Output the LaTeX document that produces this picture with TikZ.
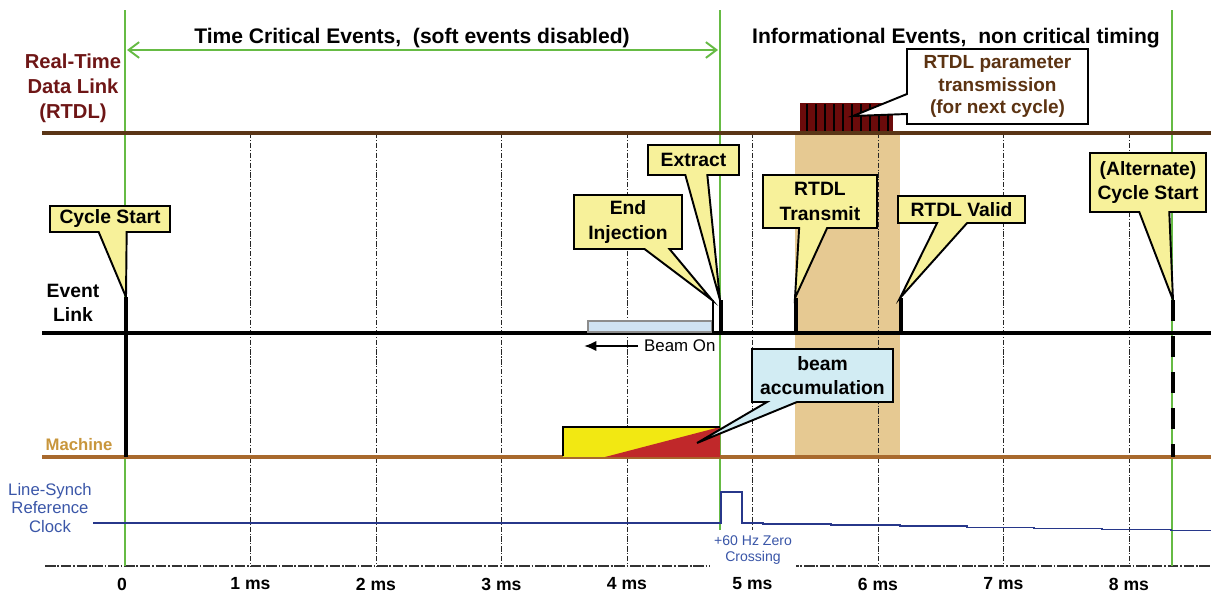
\documentclass[tikz,border=0pt]{standalone}
\usepackage{fontspec}
\setmainfont{Liberation Sans}
\usepackage{tikz}
\usetikzlibrary{positioning,arrows.meta,shapes.callouts}
\usepackage{xcolor}
\definecolor{rtdlline}{HTML}{5A3516}
\definecolor{rtdltext}{HTML}{6E1616}
\definecolor{paramtext}{HTML}{5C3312}
\definecolor{rtdlred}{HTML}{6B0B0B}
\definecolor{machline}{HTML}{A8692D}
\definecolor{machtext}{HTML}{C8963C}
\definecolor{clockblue}{HTML}{27378A}
\definecolor{clocktext}{HTML}{3A56A8}
\definecolor{cyclegreen}{HTML}{66BB44}
\definecolor{noteyellow}{HTML}{F7F19A}
\definecolor{noteblue}{HTML}{D2ECF3}
\definecolor{beamblue}{HTML}{CFE2F2}
\definecolor{rtdlband}{HTML}{E6C992}
\definecolor{accyellow}{HTML}{F2E812}
\definecolor{accred}{HTML}{C0282A}

\begin{document}
\begin{tikzpicture}[x=0.02cm,y=-0.02cm,
    evnote/.style={rectangle callout,draw=black,line width=1.1pt,fill=noteyellow,
      font=\fontsize{11}{14}\selectfont\bfseries,align=center,inner sep=0pt,
      callout pointer width=0.56cm},
    evtick/.style={black,line width=2.3pt},
    gridline/.style={black!85,line width=0.55pt,dash pattern=on 3pt off 1pt on 0.6pt off 1pt},
    greenline/.style={cyclegreen,line width=0.9pt},
    axislbl/.style={font=\fontsize{10}{12}\selectfont\bfseries}]
  \useasboundingbox (0,0) rectangle (1211,595);
  % RTDL transmission window
  \fill[rtdlband] (795,133) rectangle (900,456);
  % ms grid
  \foreach \t in {1,...,8}
    \draw[gridline] ({125+125.5*\t},133) -- ({125+125.5*\t},566);
  \draw[black!80,line width=0.6pt,dash pattern=on 6pt off 1pt on 1pt off 1pt] (45,566) -- (1211,566);
  % cycle boundaries
  \draw[greenline] (125,10) -- (125,566);
  \draw[greenline] (720,10) -- (720,566);
  \draw[greenline] (1172,10) -- (1172,566);
  \draw[greenline,line width=1.1pt,{Straight Barb[length=6pt,width=9pt]}-{Straight Barb[length=6pt,width=9pt]}] (127,50) -- (718,50);
  % RTDL burst
  \fill[rtdlred] (800,103) rectangle (893,133);
  \foreach \x in {807,816,...,889}
    \draw[black,line width=1.1pt] (\x,104) -- (\x,131);
  % links
  \draw[rtdlline,line width=2.8pt] (42,133) -- (1211,133);
  \draw[black,line width=2.5pt] (42,333) -- (1211,333);
  \draw[machline,line width=1.9pt] (42,457) -- (1211,457);
  % line synch clock
  \draw[clockblue,line width=1.1pt] (93,523) -- (721,523) -- (721,492) -- (742,492) -- (742,523)
    -- (763,523) -- (763,524) -- (831,524) -- (831,525.3) -- (900,525.3) -- (900,526.3)
    -- (967,526.3) -- (967,527.5) -- (1034,527.5) -- (1034,528.5) -- (1102,528.5)
    -- (1102,529.5) -- (1171,529.5) -- (1171,530.5) -- (1211,530.5);
  % beam on
  \filldraw[fill=beamblue,draw=black!45,line width=0.6pt] (588,321) rectangle (712,332);
  \node[anchor=west,font=\fontsize{9.6}{11}\selectfont] (beamon) at (638,346) {Beam On};
  \coordinate (beamonend) at (584,346);
  \draw[black,line width=1.4pt,-{Latex[length=7pt,width=6pt]}] (beamon.west) -- (beamonend);
  % accumulation
  \fill[accyellow] (563,427) rectangle (720,457);
  \fill[accred] (605,457) -- (720,427) -- (720,457) -- cycle;
  \draw[black,line width=0.6pt] (563,456) -- (563,427) -- (720,427);
  % events
  \coordinate (cstip) at (126,297);
  \coordinate (eitip) at (712,300);
  \coordinate (extip) at (720,300);
  \coordinate (txtip) at (795,298);
  \coordinate (vdtip) at (900,298);
  \coordinate (alttip) at (1173,300);
  \coordinate (paramtip) at (853,116);
  \coordinate (acctip) at (697,443);
  \draw[evtick,line width=2.8pt] (cstip) -- (126,457);
  \draw[evtick,line width=1.7pt] (713,300) -- (713,333);
  \draw[evtick] (721,300) -- (721,333);
  \draw[evtick] (796,298) -- (796,333);
  \draw[evtick] (901,298) -- (901,333);
  \draw[evtick,dash pattern=on 12pt off 8.5pt] (alttip) -- (1173,457);
  % callouts
  \node[evnote,minimum width=2.4cm,minimum height=0.52cm,callout absolute pointer={(cstip)}] (cyclestart) at (110,219) {Cycle Start};
  \node[evnote,minimum width=2.16cm,minimum height=1.08cm,callout pointer width=0.5cm,callout absolute pointer={(eitip)}] (endinj) at (628,222) {End\\Injection};
  \node[evnote,minimum width=1.82cm,minimum height=0.6cm,callout pointer width=0.44cm,callout absolute pointer={(extip)}] (extract) at (693.5,160) {Extract};
  \node[evnote,minimum width=2.28cm,minimum height=1.06cm,callout absolute pointer={(txtip)}] (rtdltx) at (820,201.5) {RTDL\\Transmit};
  \node[evnote,minimum width=2.54cm,minimum height=0.54cm,callout pointer width=0.6cm,callout absolute pointer={(vdtip)}] (rtdlvalid) at (961.5,209.5) {RTDL Valid};
  \node[evnote,minimum width=2.32cm,minimum height=1.18cm,callout pointer width=0.6cm,callout absolute pointer={(alttip)}] (altstart) at (1148,182.5) {(Alternate)\\Cycle Start};
  \node[evnote,fill=white,text=paramtext,font=\fontsize{10.8}{13}\selectfont\bfseries,minimum width=3.62cm,minimum height=1.5cm,callout pointer width=0.4cm,callout absolute pointer={(paramtip)}] (rtdlparam) at (997.5,86.5) {RTDL parameter\\transmission\\(for next cycle)};
  \node[evnote,fill=noteblue,minimum width=2.82cm,minimum height=1.06cm,callout pointer width=0.6cm,callout absolute pointer={(acctip)}] (beamacc) at (822.5,375.5) {beam\\accumulation};
  % headings
  \node[font=\fontsize{12}{14}\selectfont\bfseries] (tcrit) at (412,38) {Time Critical Events,\ \ (soft events disabled)};
  \node[font=\fontsize{12}{14}\selectfont\bfseries] (info) at (956,38) {Informational Events,\ \ non critical timing};
  % row labels
  \node[font=\fontsize{11.5}{14.2}\selectfont\bfseries,text=rtdltext,align=center] (rtdllbl) at (73,88) {Real-Time\\Data Link\\(RTDL)};
  \node[font=\fontsize{11}{14}\selectfont\bfseries,align=center] (eventlbl) at (73,303) {Event\\Link};
  \node[font=\fontsize{9.5}{11}\selectfont\bfseries,text=machtext] (machlbl) at (79,445) {Machine};
  \node[font=\fontsize{9.5}{10.5}\selectfont,text=clocktext,align=center] (clocklbl) at (50,508) {Line-Synch\\Reference\\Clock};
  \node[fill=white,font=\fontsize{8}{9.6}\selectfont,text=clocktext,align=center,inner xsep=2.5pt,inner ysep=3pt] (zerocross) at (753,550) {+60 Hz Zero\\Crossing};
  % time axis
  \node[axislbl] (ms0) at (122,584) {0};
  \foreach \t in {1,...,8}
    \node[axislbl] (ms\t) at ({125+125.5*\t},584) {\t\ ms};
\end{tikzpicture}
\end{document}
